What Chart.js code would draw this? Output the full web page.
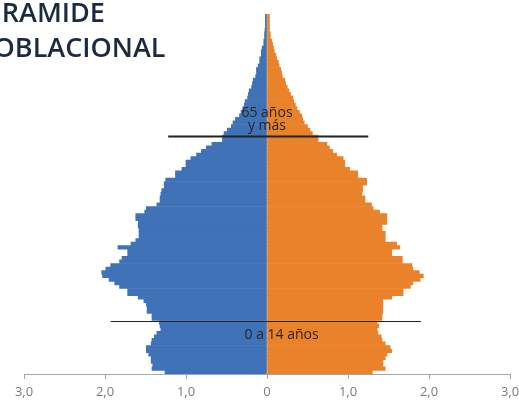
<!DOCTYPE html>
<html>
<head>
<meta charset="utf-8">
<script src="https://cdn.jsdelivr.net/npm/chart.js@4"></script>
<style>
  html, body { margin: 0; padding: 0; background: #fff; }
  canvas { display: block; }
</style>
</head>
<body>
<canvas id="pyramid" width="519" height="401"></canvas>
<script>
// edades simples 0..100
const ages = Array.from({ length: 101 }, (_, i) => String(i));

// % de población por edad
const hombres = [
  1.26, 1.42, 1.41, 1.43, 1.43, 1.46, 1.49, 1.49, 1.43, 1.42,
  1.39, 1.36, 1.31, 1.32, 1.33, 1.42, 1.42, 1.48, 1.48, 1.49,
  1.52, 1.59, 1.72, 1.72, 1.82, 1.88, 1.95, 2.03, 2.04, 1.99,
  1.93, 1.82, 1.79, 1.72, 1.72, 1.84, 1.68, 1.62, 1.58, 1.58,
  1.58, 1.59, 1.59, 1.62, 1.62, 1.51, 1.49, 1.36, 1.32, 1.32,
  1.31, 1.30, 1.27, 1.27, 1.25, 1.13, 1.13, 1.05, 1.00, 1.00,
  0.94, 0.87, 0.81, 0.75, 0.68, 0.55, 0.55, 0.53, 0.49, 0.44,
  0.42, 0.39, 0.34, 0.32, 0.30, 0.28, 0.27, 0.24, 0.23, 0.22,
  0.19, 0.18, 0.17, 0.14, 0.13, 0.13, 0.11, 0.09, 0.09, 0.07,
  0.07, 0.06, 0.04, 0.04, 0.03, 0.03, 0.025, 0.02, 0.02, 0.02, 0.02
];

const mujeres = [
  1.30, 1.46, 1.43, 1.43, 1.46, 1.48, 1.54, 1.52, 1.46, 1.42,
  1.41, 1.37, 1.36, 1.38, 1.36, 1.42, 1.42, 1.43, 1.43, 1.43,
  1.43, 1.54, 1.68, 1.68, 1.77, 1.80, 1.89, 1.93, 1.88, 1.80,
  1.79, 1.67, 1.67, 1.54, 1.54, 1.64, 1.60, 1.46, 1.46, 1.46,
  1.42, 1.42, 1.48, 1.48, 1.48, 1.39, 1.31, 1.29, 1.21, 1.21,
  1.17, 1.18, 1.18, 1.23, 1.23, 1.12, 1.12, 1.02, 0.96, 0.96,
  0.94, 0.86, 0.81, 0.77, 0.74, 0.63, 0.63, 0.56, 0.53, 0.50,
  0.46, 0.44, 0.43, 0.40, 0.37, 0.35, 0.33, 0.32, 0.29, 0.27,
  0.25, 0.23, 0.22, 0.19, 0.18, 0.17, 0.15, 0.14, 0.12, 0.11,
  0.09, 0.08, 0.07, 0.06, 0.04, 0.04, 0.03, 0.03, 0.03, 0.03, 0.03
];

const xTicks = [-3, -2, -1, 0, 1, 2, 3];

// separadores de grupos de edad
const grupos = [
  { edad: 14.5, desde: -1.93, hasta: 1.90, ancho: 1.2, textos: ["0 a 14 años"], dx: 0.18, dy: [17] },
  { edad: 66.2, desde: -1.22, hasta: 1.25, ancho: 2, textos: ["65 años", "y más"], dx: 0, dy: [-20, -7] }
];

/* ============================
   OVERLAY: TITULO Y GRUPOS
============================ */
const overlay = {
  id: "overlay",
  afterDatasetsDraw(chart) {
    const ctx = chart.ctx;
    const xs = chart.scales.x, ys = chart.scales.y;
    ctx.save();
    grupos.forEach(g => {
      const y = Math.round(ys.getPixelForValue(g.edad)) + 0.5;
      ctx.strokeStyle = "#222";
      ctx.lineWidth = g.ancho;
      ctx.beginPath();
      ctx.moveTo(xs.getPixelForValue(g.desde), y);
      ctx.lineTo(xs.getPixelForValue(g.hasta), y);
      ctx.stroke();

      ctx.fillStyle = "#262626";
      ctx.font = '14px "Open Sans"';
      ctx.textAlign = "center";
      ctx.textBaseline = "alphabetic";
      g.textos.forEach((t, i) => {
        ctx.fillText(t, xs.getPixelForValue(g.dx), y + g.dy[i]);
      });
    });

    // titulo (cortado por el borde como en el original)
    ctx.fillStyle = "#1b2a3f";
    ctx.font = '600 27px "Open Sans"';
    ctx.textAlign = "left";
    ctx.fillText("PIRAMIDE", -23, 22);
    ctx.fillText("POBLACIONAL", -23, 57);
    ctx.restore();
  }
};

new Chart(document.getElementById("pyramid"), {
  type: "bar",
  data: {
    labels: ages,
    datasets: [
      {
        label: "Hombres",
        data: hombres.map(v => -v),
        backgroundColor: "#3f72b6",
        borderWidth: 0,
        barPercentage: 1,
        categoryPercentage: 1
      },
      {
        label: "Mujeres",
        data: mujeres,
        backgroundColor: "#e9822a",
        borderWidth: 0,
        barPercentage: 1,
        categoryPercentage: 1
      }
    ]
  },
  options: {
    indexAxis: "y",
    responsive: false,
    animation: false,
    devicePixelRatio: 1,
    layout: { padding: { left: 24, right: 9, top: 14, bottom: 0 } },
    plugins: {
      legend: { display: false },
      tooltip: { enabled: false }
    },
    scales: {
      x: {
        type: "linear",
        stacked: true,
        min: -3,
        max: 3,
        afterBuildTicks: axis => { axis.ticks = xTicks.map(v => ({ value: v })); },
        afterFit: axis => {
          // etiquetas de los extremos no empujan el area
          axis.paddingLeft = 0;
          axis.paddingRight = 0;
          axis.height = 27;
        },
        ticks: {
          color: "#7a7a7a",
          font: { family: "Open Sans", size: 13, lineHeight: 1 },
          padding: 7,
          callback: v => v === 0 ? "0" : Math.abs(v).toFixed(1).replace(".", ",")
        },
        grid: { drawOnChartArea: false, drawTicks: true, tickLength: 5, color: "#a6a6a6" },
        border: { color: "#a6a6a6", width: 1 }
      },
      y: {
        type: "category",
        stacked: true,
        reverse: true,
        display: false
      }
    }
  },
  plugins: [overlay]
});
</script>
</body>
</html>
